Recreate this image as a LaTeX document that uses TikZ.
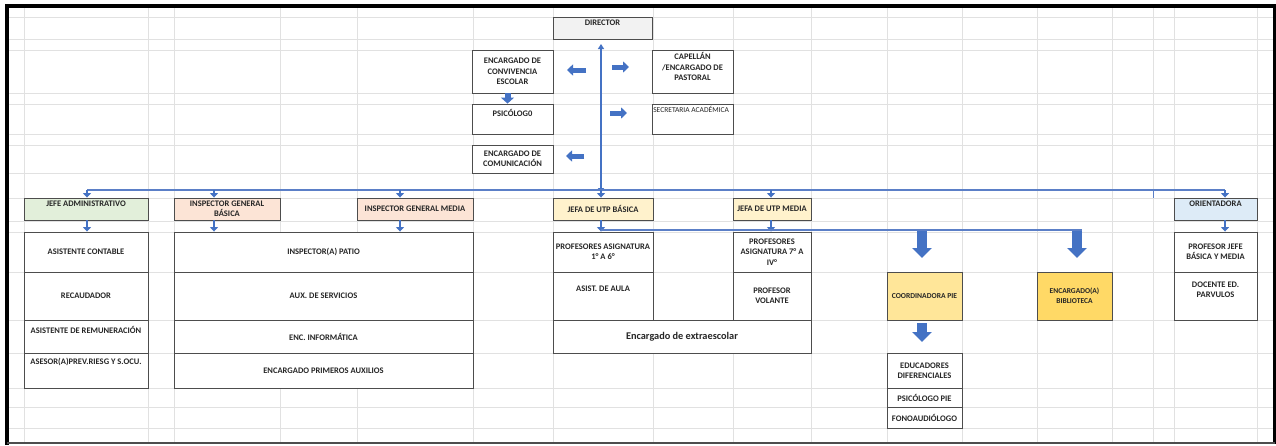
\documentclass[tikz,border=0pt]{standalone}
\usepackage{fontspec}
\setmainfont{Carlito}
\usetikzlibrary{arrows.meta}
\definecolor{gridc}{HTML}{E1E1E1}
\definecolor{bordc}{HTML}{4D4D4D}
\definecolor{arrc}{HTML}{4472C4}
\definecolor{busc}{HTML}{5B7FC7}
\definecolor{dirc}{HTML}{F2F2F2}
\definecolor{greenc}{HTML}{E2EFDA}
\definecolor{peachc}{HTML}{FCE4D6}
\definecolor{yelc}{HTML}{FFF2CC}
\definecolor{bluec}{HTML}{DDEBF7}
\definecolor{goldl}{HTML}{FFE699}
\definecolor{goldd}{HTML}{FFD966}
\definecolor{txtc}{HTML}{262626}
\newcommand{\bx}[7]{\node[box,#6,minimum width={(#4)-(#2)},minimum height={(#5)-(#3)}] (#1) at ({((#2)+(#4))/2},{((#3)+(#5))/2}) {#7};}
\newcommand{\tp}[3]{\node[lbl,anchor=north] (#1t) at ([yshift=-#2pt]#1.north) {#3};}
\begin{document}
\begin{tikzpicture}[x=1pt,y=-1pt,
 box/.style={draw=bordc,line width=0.9pt,fill=white,inner sep=1pt,align=center,text=txtc,font=\fontsize{8.5}{10.3}\selectfont\bfseries},
 lbl/.style={inner sep=0pt,align=center,text=txtc,font=\fontsize{8.5}{10.3}\selectfont\bfseries},
 gridl/.style={draw=gridc,line width=0.8pt},
 bus/.style={draw=busc,line width=1.4pt},
 sar/.style={draw=arrc,line width=2.6pt,-{Triangle[length=4.5pt,width=8pt]}},
 far/.style={draw=arrc,line width=5pt,-{Triangle[length=6pt,width=11pt]}},
 bar/.style={draw=arrc,line width=10pt,-{Triangle[length=10pt,width=19pt]}}]
\fill[white] (0,0) rectangle (1276,445);
\useasboundingbox (0,0) rectangle (1276,445);
% grid
\foreach \x in {24,148,174,280,357,473,553,653,733,811,887,962,1037,1112,1153,1174,1257}
  \draw[gridl] (\x,8) -- (\x,442);
\foreach \y in {17,39,50,93,104,134,145,173,198,221,232,272,320,353,388,407,428}
  \draw[gridl] (9,\y) -- (1273,\y);
% frame
\draw[line width=4pt] (7,445) -- (7,6) -- (1274.5,6) -- (1274.5,444);
\draw[line width=1.3pt,bordc] (7,443) -- (1274.5,443);
% top boxes
\bx{dir}{553}{17}{652}{39}{fill=dirc}{} \tp{dir}{3.5}{DIRECTOR}
\bx{conv}{472}{50}{553}{93}{}{ENCARGADO DE\\CONVIVENCIA\\ESCOLAR}
\bx{psi}{472}{104}{553}{134}{}{} \tp{psi}{6}{PSICÓLOG0}
\bx{com}{472}{145}{553}{173}{}{ENCARGADO DE\\COMUNICACIÓN}
\bx{cap}{652}{50}{733}{93}{}{} \tp{cap}{3}{CAPELLÁN\\/ENCARGADO DE\\PASTORAL}
\bx{sec}{652}{104}{733}{134}{}{}
\node[lbl,anchor=north west,font=\fontsize{7.5}{8}\selectfont] (sect) at ([xshift=1.5pt,yshift=-2.5pt]sec.north west) {SECRETARIA ACADÉMICA};
% second row
\bx{ja}{24}{198}{148}{220}{fill=greenc}{} \tp{ja}{3.5}{JEFE ADMINISTRATIVO}
\bx{igb}{174}{198}{280}{220}{fill=peachc}{INSPECTOR GENERAL\\BÁSICA}
\bx{igm}{357}{198}{473}{220}{fill=peachc}{INSPECTOR GENERAL MEDIA}
\bx{utpb}{553}{198}{653}{220}{fill=yelc}{JEFA DE UTP BÁSICA}
\bx{utpm}{733}{198}{811}{220}{fill=yelc}{JEFA DE UTP MEDIA}
\bx{ori}{1174}{198}{1257}{220}{fill=bluec}{} \tp{ori}{3.5}{ORIENTADORA}
% lower boxes
\bx{ac}{24}{232}{148}{272}{}{ASISTENTE CONTABLE}
\bx{rec}{24}{272}{148}{320}{}{RECAUDADOR}
\bx{rem}{24}{320}{148}{353}{}{} \tp{rem}{7}{ASISTENTE DE REMUNERACIÓN}
\bx{ase}{24}{353}{148}{388}{}{} \tp{ase}{5.5}{ASESOR(A)PREV.RIESG Y S.OCU.}
\bx{pat}{174}{232}{473}{272}{}{INSPECTOR(A) PATIO}
\bx{aux}{174}{272}{473}{320}{}{AUX. DE SERVICIOS}
\bx{inf}{174}{320}{473}{353}{}{ENC. INFORMÁTICA}
\bx{pa}{174}{353}{473}{388}{}{ENCARGADO PRIMEROS AUXILIOS}
\bx{p16}{553}{232}{653}{272}{}{PROFESORES ASIGNATURA\\1° A 6°}
\bx{aa}{553}{272}{653}{320}{}{} \tp{aa}{14.5}{ASIST. DE AULA}
\bx{p7}{733}{232}{811}{272}{}{PROFESORES\\ASIGNATURA 7° A\\IV°}
\bx{pv}{733}{272}{811}{320}{}{PROFESOR\\VOLANTE}
\bx{ext}{553}{320}{811}{353}{font=\fontsize{10.3}{12}\selectfont\bfseries}{Encargado de extraescolar}
\bx{cpie}{887}{272}{962}{320}{fill=goldl,font=\fontsize{7.6}{9.5}\selectfont\bfseries}{COORDINADORA PIE}
\bx{bib}{1037}{272}{1112}{320}{fill=goldd,font=\fontsize{7.5}{10}\selectfont\bfseries}{ENCARGADO(A)\\BIBLIOTECA}
\bx{edu}{887}{353}{962}{388}{}{EDUCADORES\\DIFERENCIALES}
\bx{ppie}{887}{388}{962}{407}{}{PSICÓLOGO PIE}
\bx{fono}{887}{407}{962}{428}{}{FONOAUDIÓLOGO}
\bx{pj}{1174}{232}{1257}{272}{}{PROFESOR JEFE\\BÁSICA Y MEDIA}
\bx{doc}{1174}{272}{1257}{320}{}{} \tp{doc}{10}{DOCENTE ED.\\PARVULOS}
% director vertical line
\coordinate (vt) at (601,44);
\coordinate (vb) at (601,193);
\draw[draw=arrc,line width=1.6pt,{Triangle[length=5pt,width=6pt]}-{Triangle[length=5pt,width=6pt]}] (vb) -- (vt);
% fat side arrows
\coordinate (fa1) at (586,70); \coordinate (fa1e) at (567,70);
\coordinate (fa2) at (612,67); \coordinate (fa2e) at (629,67);
\coordinate (fa3) at (610,113); \coordinate (fa3e) at (627,113);
\coordinate (fa4) at (584,156); \coordinate (fa4e) at (566,156);
\draw[far] (fa1) -- (fa1e);
\draw[far] (fa2) -- (fa2e);
\draw[far] (fa3) -- (fa3e);
\draw[far] (fa4) -- (fa4e);
\draw[draw=arrc,line width=6pt,-{Triangle[length=6pt,width=13pt]}] ([xshift=-5pt]conv.south) -- ([xshift=-5pt]psi.north);
% main bus
\coordinate (b1) at (87,190);
\coordinate (b2) at (214,190);
\coordinate (b3) at (400,190);
\coordinate (b4) at (601,190);
\coordinate (b5) at (771,190);
\coordinate (b6) at (1225,190);
\coordinate (bt) at (1153,190);
\draw[bus] (b1) -- (b6);
\draw[draw=busc,line width=0.8pt] (bt) -- (bt |- ori.north);
\draw[sar] (b1) -- (b1 |- ja.north);
\draw[sar] (b2) -- (b2 |- igb.north);
\draw[sar] (b3) -- (b3 |- igm.north);
\draw[sar] (b4) -- (b4 |- utpb.north);
\draw[sar] (b5) -- (b5 |- utpm.north);
\draw[sar] (b6) -- (b6 |- ori.north);
% arrows below second row
\draw[sar] (b1 |- ja.south) -- (b1 |- ac.north);
\draw[sar] (b2 |- igb.south) -- (b2 |- pat.north);
\draw[sar] (b3 |- igm.south) -- (b3 |- pat.north);
\draw[sar] (b4 |- utpb.south) -- (b4 |- p16.north);
\draw[sar] (b5 |- utpm.south) -- (b5 |- p7.north);
\draw[sar] (b6 |- ori.south) -- (b6 |- pj.north);
% second bus and big arrows
\coordinate (s1) at (1082,230);
\draw[bus] (b4 |- s1) -- (s1);
\coordinate (k1s) at (922,231); \coordinate (k1) at (922,258);
\coordinate (k2s) at (1077,231); \coordinate (k2) at (1077,258);
\coordinate (k3s) at (922,323); \coordinate (k3) at (922,342);
\draw[bar] (k1s) -- (k1);
\draw[bar] (k2s) -- (k2);
\draw[bar] (k3s) -- (k3);
\end{tikzpicture}
\end{document}
